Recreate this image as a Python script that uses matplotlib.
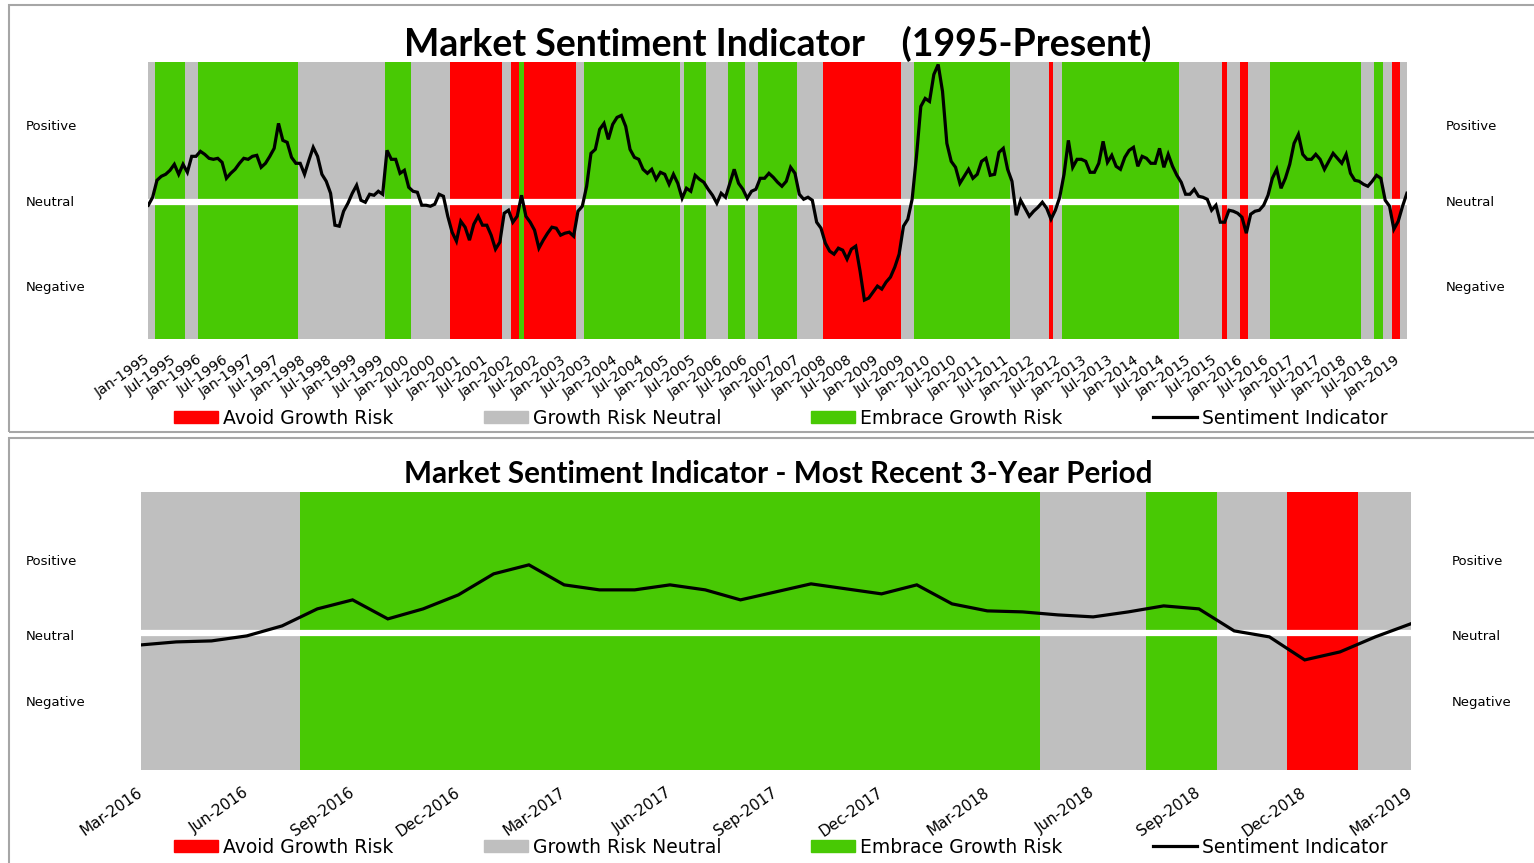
import numpy as np
import pandas as pd
import matplotlib
matplotlib.use("Agg")
import matplotlib.pyplot as plt
from matplotlib.patches import Patch, Rectangle
from matplotlib.lines import Line2D
from matplotlib import transforms

# monthly sentiment indicator, Jan-1995 .. Mar-2019
months = pd.date_range("1995-01-01", periods=291, freq="MS")
sentiment = [
    -0.03, 0.05, 0.22, 0.26, 0.28, 0.32, 0.38, 0.28, 0.38, 0.30, 0.46, 0.46,   # 1995
    0.51, 0.48, 0.44, 0.43, 0.44, 0.40, 0.24, 0.29, 0.33, 0.39, 0.44, 0.43,    # 1996
    0.46, 0.47, 0.35, 0.39, 0.46, 0.54, 0.79, 0.62, 0.60, 0.45, 0.39, 0.39,    # 1997
    0.28, 0.42, 0.55, 0.46, 0.28, 0.21, 0.09, -0.23, -0.24, -0.09, -0.01, 0.09,  # 1998
    0.17, 0.02, 0.00, 0.08, 0.07, 0.11, 0.08, 0.52, 0.43, 0.43, 0.29, 0.32,    # 1999
    0.15, 0.11, 0.10, -0.03, -0.03, -0.04, -0.02, 0.08, 0.06, -0.14, -0.30, -0.39,  # 2000
    -0.19, -0.25, -0.38, -0.22, -0.14, -0.23, -0.23, -0.33, -0.47, -0.40, -0.11, -0.08,  # 2001
    -0.20, -0.14, 0.07, -0.14, -0.20, -0.28, -0.46, -0.38, -0.31, -0.25, -0.26, -0.33,  # 2002
    -0.31, -0.30, -0.34, -0.09, -0.04, 0.16, 0.49, 0.53, 0.73, 0.79, 0.63, 0.78,  # 2003
    0.85, 0.87, 0.76, 0.53, 0.45, 0.43, 0.33, 0.29, 0.33, 0.23, 0.30, 0.28,    # 2004
    0.18, 0.28, 0.19, 0.04, 0.14, 0.11, 0.27, 0.23, 0.20, 0.13, 0.07, -0.01,   # 2005
    0.09, 0.05, 0.19, 0.33, 0.19, 0.13, 0.04, 0.11, 0.13, 0.24, 0.24, 0.29,    # 2006
    0.25, 0.20, 0.16, 0.21, 0.35, 0.29, 0.08, 0.03, 0.05, 0.02, -0.20, -0.26,  # 2007
    -0.41, -0.49, -0.52, -0.46, -0.48, -0.57, -0.47, -0.44, -0.69, -0.98, -0.96, -0.90,  # 2008
    -0.84, -0.87, -0.80, -0.75, -0.65, -0.52, -0.24, -0.17, 0.03, 0.46, 0.96, 1.04,  # 2009
    1.01, 1.28, 1.38, 1.11, 0.59, 0.41, 0.35, 0.19, 0.26, 0.33, 0.24, 0.28,    # 2010
    0.41, 0.44, 0.27, 0.28, 0.50, 0.54, 0.33, 0.21, -0.13, 0.02, -0.06, -0.14,  # 2011
    -0.09, -0.05, 0.00, -0.06, -0.17, -0.08, 0.05, 0.28, 0.62, 0.35, 0.43, 0.43,  # 2012
    0.41, 0.30, 0.30, 0.39, 0.61, 0.40, 0.47, 0.36, 0.33, 0.45, 0.52, 0.55,    # 2013
    0.36, 0.46, 0.44, 0.39, 0.39, 0.54, 0.35, 0.48, 0.36, 0.27, 0.20, 0.08,    # 2014
    0.08, 0.13, 0.06, 0.05, 0.03, -0.08, -0.03, -0.20, -0.20, -0.08, -0.09, -0.11,  # 2015
    -0.15, -0.31, -0.12, -0.09, -0.08, -0.03, 0.07, 0.24, 0.33, 0.14, 0.24, 0.38,  # 2016
    0.59, 0.68, 0.48, 0.43, 0.43, 0.48, 0.43, 0.33, 0.41, 0.49, 0.44, 0.39,    # 2017
    0.48, 0.29, 0.22, 0.21, 0.18, 0.16, 0.21, 0.27, 0.24, 0.02, -0.04, -0.27,  # 2018
    -0.19, -0.04, 0.09,                                                        # 2019
]

# regime runs: A = avoid, N = neutral, E = embrace ; lengths in months
regime_codes = ["N", "E", "N", "E", "N", "E", "N", "A", "N", "A", "E", "A", "N",
                "E", "N", "E", "N", "E", "N", "E", "N", "A", "N", "E", "N", "A",
                "N", "E", "N", "A", "N", "A", "N", "E", "N", "E", "N", "A", "N"]
regime_lengths = [2, 7, 3, 23, 20, 6, 9, 12, 2, 2, 1, 12, 2,
                  22, 1, 5, 5, 4, 3, 9, 6, 18, 3, 22, 9, 1,
                  2, 27, 10, 1, 3, 2, 5, 21, 3, 2, 2, 2, 2]

level_names = ["Positive", "Neutral", "Negative"]
level_top = [0.755, 0.0, -0.855]
level_bottom = [0.71, -0.04, -0.70]

legend_labels = ["Avoid Growth Risk", "Growth Risk Neutral", "Embrace Growth Risk",
                 "Sentiment Indicator"]

colors = {"A": "#FF0000", "N": "#BFBFBF", "E": "#48C904"}
YMIN, YMAX = -1.37, 1.405
W, H = 1534, 863

regime = np.repeat(regime_codes, regime_lengths)
sentiment = np.array(sentiment)
labels_all = [d.strftime("%b-%Y") for d in months]

plt.rcParams["font.family"] = ["DejaVu Sans"]
fig = plt.figure(figsize=(W / 100, H / 100), dpi=100)


def draw_panel(ax, start):
    n = len(sentiment) - start
    # shaded regimes, merged into runs
    i = 0
    while i < n:
        j = i
        while j + 1 < n and regime[start + j + 1] == regime[start + i]:
            j += 1
        ax.axvspan(i - 0.5, j + 0.5, color=colors[regime[start + i]], lw=0, zorder=1)
        i = j + 1
    ax.axhline(0, color="white", lw=4.5, zorder=2)
    ax.plot(np.arange(n), sentiment[start:], color="black", lw=2.3, zorder=3,
            solid_joinstyle="miter")
    ax.set_xlim(0, n - 1)
    ax.set_ylim(YMIN, YMAX)
    ax.set_yticks([])
    for s in ax.spines.values():
        s.set_visible(False)
    ax.tick_params(axis="x", length=0)


# ---- top chart: full history
ax1 = fig.add_axes([148.3 / W, 1 - 339 / H, 1258.6 / W, 277 / H])
draw_panel(ax1, 0)
tick_pos = list(range(0, 289, 6))
ax1.set_xticks(tick_pos)
ax1.set_xticklabels([labels_all[i] for i in tick_pos], rotation=35, ha="right",
                    va="center", rotation_mode="anchor", fontsize=10.3)
ax1.tick_params(axis="x", pad=14)

# ---- bottom chart: last 3 years
start = len(sentiment) - 37
ax2 = fig.add_axes([141 / W, 1 - 770 / H, 1269.5 / W, 277.7 / H])
draw_panel(ax2, start)
tick_pos2 = list(range(0, 37, 3))
ax2.set_xticks(tick_pos2)
ax2.set_xticklabels([labels_all[start + i] for i in tick_pos2], rotation=35, ha="right",
                    va="center", rotation_mode="anchor", fontsize=11)
ax2.tick_params(axis="x", pad=15)

# level labels on both sides
for ax, ys, xl, xr in [(ax1, level_top, 26, 1446), (ax2, level_bottom, 26, 1452)]:
    tr = transforms.blended_transform_factory(fig.transFigure, ax.transData)
    for name, y in zip(level_names, ys):
        ax.text(xl / W, y, name, transform=tr, fontsize=9.5, ha="left", va="center")
        ax.text(xr / W, y, name, transform=tr, fontsize=9.5, ha="left", va="center")

# titles
fig.text(778 / W, 1 - 56 / H, "Market Sentiment Indicator    (1995-Present)",
         family="Lato", weight="bold", fontsize=27, ha="center", va="baseline")
fig.text(778 / W, 1 - 483 / H, "Market Sentiment Indicator - Most Recent 3-Year Period",
         family="Lato", weight="bold", fontsize=21.3, ha="center", va="baseline")

# legends
handles = [Patch(color=colors["A"]), Patch(color=colors["N"]), Patch(color=colors["E"]),
           Line2D([], [], color="black", lw=2.3)]
for yc in [418, 847]:
    fig.legend(handles, legend_labels, loc="center left",
               bbox_to_anchor=(174 / W, 1 - yc / H), ncol=4, frameon=False,
               fontsize=13.5, handlelength=2.35, handleheight=0.65,
               handletextpad=0.27, columnspacing=4.8, borderpad=0, borderaxespad=0)

# panel borders
fig.patches.append(Rectangle((8.5 / W, 1 - 432.5 / H), 1.1, 427.8 / H,
                             transform=fig.transFigure, fill=False,
                             edgecolor="#A6A6A6", lw=1.5))
fig.patches.append(Rectangle((8.5 / W, -0.1), 1.1, 1 - 438 / H + 0.1,
                             transform=fig.transFigure, fill=False,
                             edgecolor="#A6A6A6", lw=1.5))

fig.savefig("out.png", dpi=100)
